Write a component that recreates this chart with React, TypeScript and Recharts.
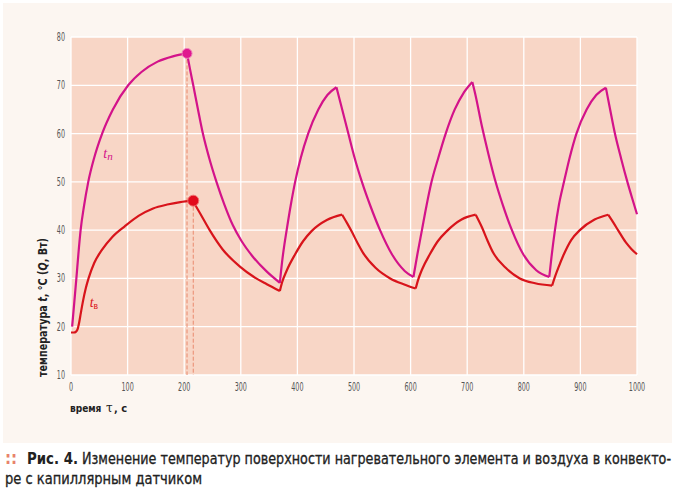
import React from 'react';
import { LineChart, Line, XAxis, YAxis, CartesianGrid, ReferenceLine, ReferenceDot } from 'recharts';

const xTicks = [0, 100, 200, 300, 400, 500, 600, 700, 800, 900, 1000];
const yTicks = [10, 20, 30, 40, 50, 60, 70, 80];

// surface temperature t_п
const surfaceTime = [2, 6, 9.5, 13, 17, 23, 30.5, 41, 55, 74, 101, 125, 153, 180, 205,
  210, 216, 224, 233, 244, 257, 271, 286, 301, 322, 346, 369,
  373, 377, 381, 388, 396, 406, 419, 437, 453, 469,
  478, 490, 501, 514, 529, 546, 567, 590, 605,
  612, 620, 628, 637, 649, 662, 678, 694, 709,
  714, 726, 737, 749, 763, 779, 799, 822, 845,
  849, 855, 862, 871, 881, 893, 911, 928, 945,
  952, 961, 972, 983, 992, 1000];
const surfaceTemp = [20, 25.3, 30, 35, 40, 45, 50, 55, 60, 65, 70, 72.8, 74.9, 76, 76.6,
  73.5, 70, 65.2, 60, 55, 50, 45.3, 41, 37.8, 34.4, 31.4, 29.1,
  33.5, 37, 40, 45, 50, 55, 60, 65, 68, 69.6,
  65.5, 60, 55, 50, 45, 40, 35, 31.5, 30.3,
  35, 40, 45, 50, 55, 60, 65, 68.5, 70.7,
  68.3, 61.5, 56, 50.5, 45.2, 40, 35, 31.7, 30.3,
  34.5, 40, 45.2, 50, 55, 60, 65, 68, 69.5,
  65.3, 60, 54.8, 50, 46.4, 43.3];

// air temperature t_в
const airTime = [0, 5, 9, 12, 14, 17, 21, 26, 31, 41, 54, 73, 95, 120, 145, 170, 193, 215,
  228, 245, 268, 299, 322, 346, 369,
  373, 381, 396, 410, 425, 452, 479,
  488, 496, 506, 516, 538, 564, 590, 609,
  613, 620, 634, 648, 664, 690, 715,
  726, 736, 746, 768, 793, 820, 850,
  855, 862, 870, 884, 899, 925, 949,
  958, 967, 980, 990, 1000];
const airTemp = [18.8, 18.8, 19, 19.6, 20.6, 22.6, 25.2, 27.9, 30, 33.2, 35.8, 38.6, 40.8, 43, 44.5, 45.3, 45.8, 46.1,
  43.5, 40, 36, 32.4, 30.4, 28.8, 27.4,
  29.2, 31.6, 35, 37.7, 39.8, 42.1, 43.2,
  41.4, 39.7, 37.4, 35.3, 32.2, 30, 28.7, 27.9,
  29.6, 31.8, 35, 37.7, 39.8, 42.2, 43.2,
  40.6, 37.8, 35.3, 32.2, 30, 29, 28.5,
  30.3, 32.5, 34.8, 38, 40, 42.2, 43.2,
  41.6, 39.9, 37.5, 36.1, 35];

const surfacePeak = { t: 205, v: 76.6 };
const airPeak = { t: 216, v: 46.1 };
const surfaceLabelPos = { t: 57, v: 55 };
const airLabelPos = { t: 33, v: 24 };
const yMin = 10;

type Pt = { t: number; v: number };
const surfaceData: Pt[] = surfaceTime.map((t, i) => ({ t, v: surfaceTemp[i] }));
const airData: Pt[] = airTime.map((t, i) => ({ t, v: airTemp[i] }));

// split a series at its local extrema so every rise / fall is its own smooth piece with a sharp corner between
function splitAtExtrema(d: Pt[]): Pt[][] {
  const segs: Pt[][] = [];
  let cur: Pt[] = [d[0]];
  for (let i = 1; i < d.length; i++) {
    cur.push(d[i]);
    if (i < d.length - 1) {
      const a = d[i].v - d[i - 1].v;
      const b = d[i + 1].v - d[i].v;
      if ((a > 0 && b < 0) || (a < 0 && b > 0)) {
        segs.push(cur);
        cur = [d[i]];
      }
    }
  }
  segs.push(cur);
  return segs;
}
const surfaceSegs = splitAtExtrema(surfaceData);
const airSegs = splitAtExtrema(airData);

const COND = "'DejaVu Sans Condensed', 'DejaVu Sans', sans-serif";
const SERIF = "'Liberation Serif', 'DejaVu Serif', serif";
const MAGENTA = '#d3138a';
const RED = '#d8141b';
const DASH = '#e98a6f';

const XTick = (props: any) => {
  const { x, y, payload } = props;
  return (
    <g transform={`translate(${x},${y})`}>
      <text transform="scale(0.62,1)" textAnchor="middle" dy={10} fontFamily={COND} fontSize={11.5} fill="#555">{payload.value}</text>
    </g>
  );
};
const YTick = (props: any) => {
  const { x, y, payload } = props;
  return (
    <g transform={`translate(${x},${y})`}>
      <text transform="scale(0.62,1)" textAnchor="end" dy={4} fontFamily={COND} fontSize={11.5} fill="#555">{payload.value}</text>
    </g>
  );
};

const SubLabel = (main: string, sub: string, color: string, subItalic: boolean) => (props: any) => {
  const vb = props.viewBox || {};
  const x = (vb.x || 0) + (vb.width || 0) / 2;
  const y = (vb.y || 0) + (vb.height || 0) / 2;
  return (
    <text x={x} y={y} fill={color} fontFamily={SERIF} fontStyle="italic" fontSize={14}>
      <tspan>{main}</tspan>
      <tspan fontSize={subItalic ? 11 : 9.5} fontStyle={subItalic ? 'italic' : 'normal'} dy={2}>{sub}</tspan>
    </text>
  );
};

export default function App() {
  return (
    <div style={{ position: 'absolute', left: 0, top: 0, width: 678, height: 495, background: '#ffffff', overflow: 'hidden' }}>
      <div style={{ position: 'absolute', left: 3, top: 3, width: 669, height: 440, background: '#fcf6f1' }} />
      <div style={{ position: 'absolute', left: 0, top: 0 }}>
        <LineChart width={678} height={445} margin={{ top: 37, right: 41, bottom: 0, left: 0 }}>
          <CartesianGrid stroke="#ffffff" strokeWidth={1.3} fill="#f8d6c6" verticalValues={xTicks} horizontalValues={yTicks} />
          <XAxis
            dataKey="t"
            type="number"
            domain={[0, 1000]}
            ticks={xTicks}
            axisLine={false}
            tickLine={false}
            tickSize={4}
            tickMargin={2}
            height={70}
            tick={<XTick />}
            interval={0}
            label={{
              content: (p: any) => {
                const by = (p.viewBox?.y || 375) + 37;
                return (
                  <g>
                    <text x={70} y={by} fontFamily={COND} fontWeight="bold" fontSize={10} fill="#222">время</text>
                    <text x={106} y={by} fontFamily="'DejaVu Serif', serif" fontSize={12} fill="#222">τ</text>
                    <text x={114} y={by} fontFamily={COND} fontWeight="bold" fontSize={11} fill="#222">, с</text>
                  </g>
                );
              },
            }}
          />
          <YAxis
            type="number"
            domain={[10, 80]}
            ticks={yTicks}
            axisLine={false}
            tickLine={false}
            tickSize={4}
            tickMargin={2}
            width={71}
            tick={<YTick />}
            interval={0}
            label={{
              content: () => (
                <text x={47} y={377} transform="rotate(-90, 47, 377)" textLength={139} lengthAdjust="spacingAndGlyphs" fontFamily={COND} fontWeight="bold" fontSize={12.5} fill="#222">
                  температура <tspan fontStyle="italic">t</tspan>, °C (<tspan fontStyle="italic">Q</tspan>, Вт)
                </text>
              ),
            }}
          />
          <ReferenceLine segment={[{ x: surfacePeak.t, y: surfacePeak.v }, { x: surfacePeak.t, y: yMin }]} stroke={DASH} strokeDasharray="4 2" strokeWidth={1} ifOverflow="visible" />
          <ReferenceLine segment={[{ x: airPeak.t, y: airPeak.v }, { x: airPeak.t, y: yMin }]} stroke={DASH} strokeDasharray="4 2" strokeWidth={1} ifOverflow="visible" />
          {airSegs.map((seg, i) => (
            <Line key={`a${i}`} data={seg} dataKey="v" type="monotone" stroke={RED} strokeWidth={2.2} dot={false} isAnimationActive={false} />
          ))}
          {surfaceSegs.map((seg, i) => (
            <Line key={`s${i}`} data={seg} dataKey="v" type="monotone" stroke={MAGENTA} strokeWidth={2.2} dot={false} isAnimationActive={false} />
          ))}
          <ReferenceDot x={surfacePeak.t} y={surfacePeak.v} r={5} fill="#e0178f" stroke="#ee7fba" strokeWidth={1} />
          <ReferenceDot x={airPeak.t} y={airPeak.v} r={5.5} fill="#e20a1c" stroke="#f07070" strokeWidth={1} />
          <ReferenceDot x={surfaceLabelPos.t} y={surfaceLabelPos.v} r={0} fill="none" stroke="none" label={{ content: SubLabel('t', 'п', MAGENTA, true) }} />
          <ReferenceDot x={airLabelPos.t} y={airLabelPos.v} r={0} fill="none" stroke="none" label={{ content: SubLabel('t', 'в', RED, false) }} />
        </LineChart>
      </div>
      <svg width={678} height={495} style={{ position: 'absolute', left: 0, top: 0, pointerEvents: 'none' }}>
        <text x={5} y={464} fontFamily={COND} fontWeight="bold" fontSize={17} fill="#e8836a">::</text>
        <text x={27} y={464} textLength={51} lengthAdjust="spacingAndGlyphs" fontFamily={COND} fontWeight="bold" fontSize={16} fill="#222">Рис. 4.</text>
        <text x={82} y={464} textLength={589} lengthAdjust="spacingAndGlyphs" fontFamily={COND} fontSize={15.5} fill="#222" stroke="#222" strokeWidth={0.3}>
          Изменение температур поверхности нагревательного элемента и воздуха в конвекто-
        </text>
        <text x={5} y={484} textLength={197} lengthAdjust="spacingAndGlyphs" fontFamily={COND} fontSize={15.5} fill="#222" stroke="#222" strokeWidth={0.3}>
          ре с капиллярным датчиком
        </text>
      </svg>
    </div>
  );
}
